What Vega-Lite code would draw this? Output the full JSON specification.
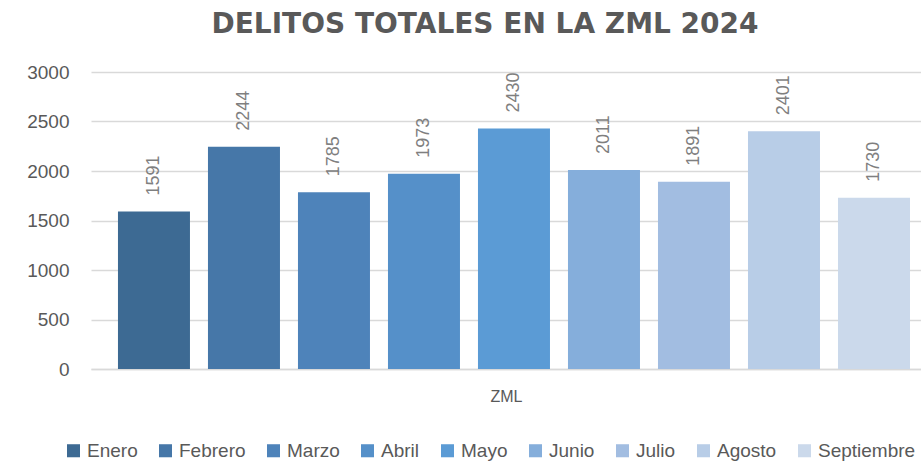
{
  "$schema": "https://vega.github.io/schema/vega-lite/v6.json",
  "width": 830,
  "height": 297,
  "padding": {"left": 26, "top": 11, "right": 0, "bottom": 0},
  "background": "white",
  "title": {
    "text": "DELITOS TOTALES EN LA ZML 2024",
    "font": "DejaVu Sans",
    "fontSize": 28,
    "fontWeight": "bold",
    "color": "#595959",
    "anchor": "middle",
    "offset": 24,
    "dx": -21
  },
  "data": {
    "values": [
      {"mes": "Enero", "delitos": 1591},
      {"mes": "Febrero", "delitos": 2244},
      {"mes": "Marzo", "delitos": 1785},
      {"mes": "Abril", "delitos": 1973},
      {"mes": "Mayo", "delitos": 2430},
      {"mes": "Junio", "delitos": 2011},
      {"mes": "Julio", "delitos": 1891},
      {"mes": "Agosto", "delitos": 2401},
      {"mes": "Septiembre", "delitos": 1730}
    ]
  },
  "config": {
    "view": {"stroke": null},
    "font": "Liberation Sans"
  },
  "encoding": {
    "x": {
      "field": "mes",
      "type": "nominal",
      "sort": null,
      "scale": {"paddingInner": 0.2, "paddingOuter": 0.211, "align": 0.71},
      "axis": {
        "title": "ZML",
        "labels": false,
        "ticks": false,
        "domain": true,
        "domainColor": "#d9d9d9",
        "domainWidth": 1.5,
        "titleFont": "Liberation Sans",
        "titleFontSize": 16,
        "titleFontWeight": "normal",
        "titleColor": "#595959",
        "titlePadding": 19
      }
    },
    "y": {
      "field": "delitos",
      "type": "quantitative",
      "scale": {"domain": [0, 3000]},
      "axis": {
        "title": null,
        "format": "d",
        "values": [0, 500, 1000, 1500, 2000, 2500, 3000],
        "domain": false,
        "ticks": false,
        "labelPadding": 22,
        "labelFontSize": 19,
        "labelColor": "#595959",
        "gridColor": "#d9d9d9",
        "gridWidth": 1.5
      }
    }
  },
  "layer": [
    {
      "mark": {"type": "bar"},
      "encoding": {
        "color": {
          "field": "mes",
          "type": "nominal",
          "sort": null,
          "scale": {
            "domain": ["Enero", "Febrero", "Marzo", "Abril", "Mayo", "Junio", "Julio", "Agosto", "Septiembre"],
            "range": ["#3D6A93", "#4677A8", "#4E83BA", "#5590C9", "#5B9BD5", "#85AEDB", "#A2BDE1", "#B8CDE7", "#CBD9EB"]
          },
          "legend": {
            "title": null,
            "orient": "none",
            "legendX": -27,
            "legendY": 369,
            "direction": "horizontal",
            "columns": 9,
            "symbolType": "square",
            "symbolSize": 170,
            "symbolStrokeWidth": 0,
            "labelFontSize": 19,
            "labelColor": "#595959",
            "labelOffset": 4,
            "columnPadding": 18
          }
        }
      }
    },
    {
      "mark": {"type": "text", "angle": 270, "align": "left", "baseline": "middle", "dx": 16, "fontSize": 18, "color": "#7f7f7f"},
      "encoding": {
        "text": {"field": "delitos", "type": "quantitative"}
      }
    }
  ]
}
